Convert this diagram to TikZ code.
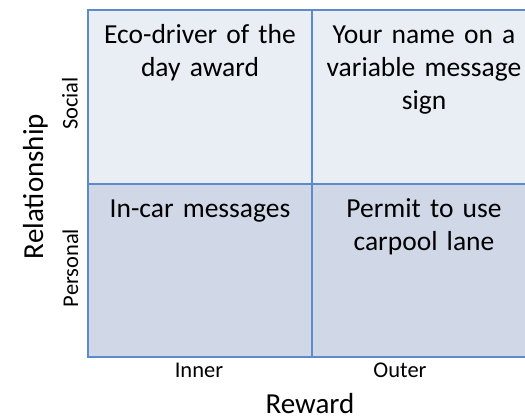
\documentclass[tikz,border=0pt]{standalone}
\usepackage{fontspec}
\setmainfont{Carlito}
\newfontfamily\cellfont{Carlito}[WordSpace=0.65]
\definecolor{gridline}{HTML}{5C8ACB}
\definecolor{upperfill}{HTML}{E9EDF4}
\definecolor{lowerfill}{HTML}{D0D8E8}
\begin{document}
\begin{tikzpicture}[x=1bp,y=-1bp,
  cell/.style={draw=gridline, line width=2.2bp, minimum width=224bp, inner sep=0, outer sep=0},
  celltext/.style={anchor=base, text width=220bp, align=center, inner sep=0,
    font=\cellfont\fontsize{27.5bp}{33bp}\selectfont},
  ticklabel/.style={anchor=base, inner sep=0, font=\fontsize{22.5bp}{27bp}\selectfont},
  axislabel/.style={anchor=base, inner sep=0, font=\fontsize{29bp}{35bp}\selectfont}]
\useasboundingbox (0,0) rectangle (525,419);

% quadrant cells
\node[cell, fill=upperfill, minimum height=174bp] (tl) at (200,97) {};
\node[cell, fill=upperfill, minimum height=174bp] (tr) at (424,97) {};
\node[cell, fill=lowerfill, minimum height=173bp] (bl) at (200,270.5) {};
\node[cell, fill=lowerfill, minimum height=173bp] (br) at (424,270.5) {};

% quadrant texts
\node[celltext] (tltext) at (200,43) {Eco-driver of the\\day award};
\node[celltext] (trtext) at (424,43) {Your name on a\\variable message\\sign};
\node[celltext] (bltext) at (200,217) {In-car messages};
\node[celltext] (brtext) at (424,217) {Permit to use\\carpool lane};

% vertical axis
\node[ticklabel, rotate=90] (social) at (77.5,103.5) {Social};
\node[ticklabel, rotate=90] (personal) at (78,268) {Personal};
\node[axislabel, rotate=90] (relationship) at (43,186.5) {Relationship};

% horizontal axis
\node[ticklabel] (inner) at (199,377) {Inner};
\node[ticklabel] (outer) at (400,377) {Outer};
\node[axislabel] (reward) at (310,413) {Reward};
\end{tikzpicture}
\end{document}
